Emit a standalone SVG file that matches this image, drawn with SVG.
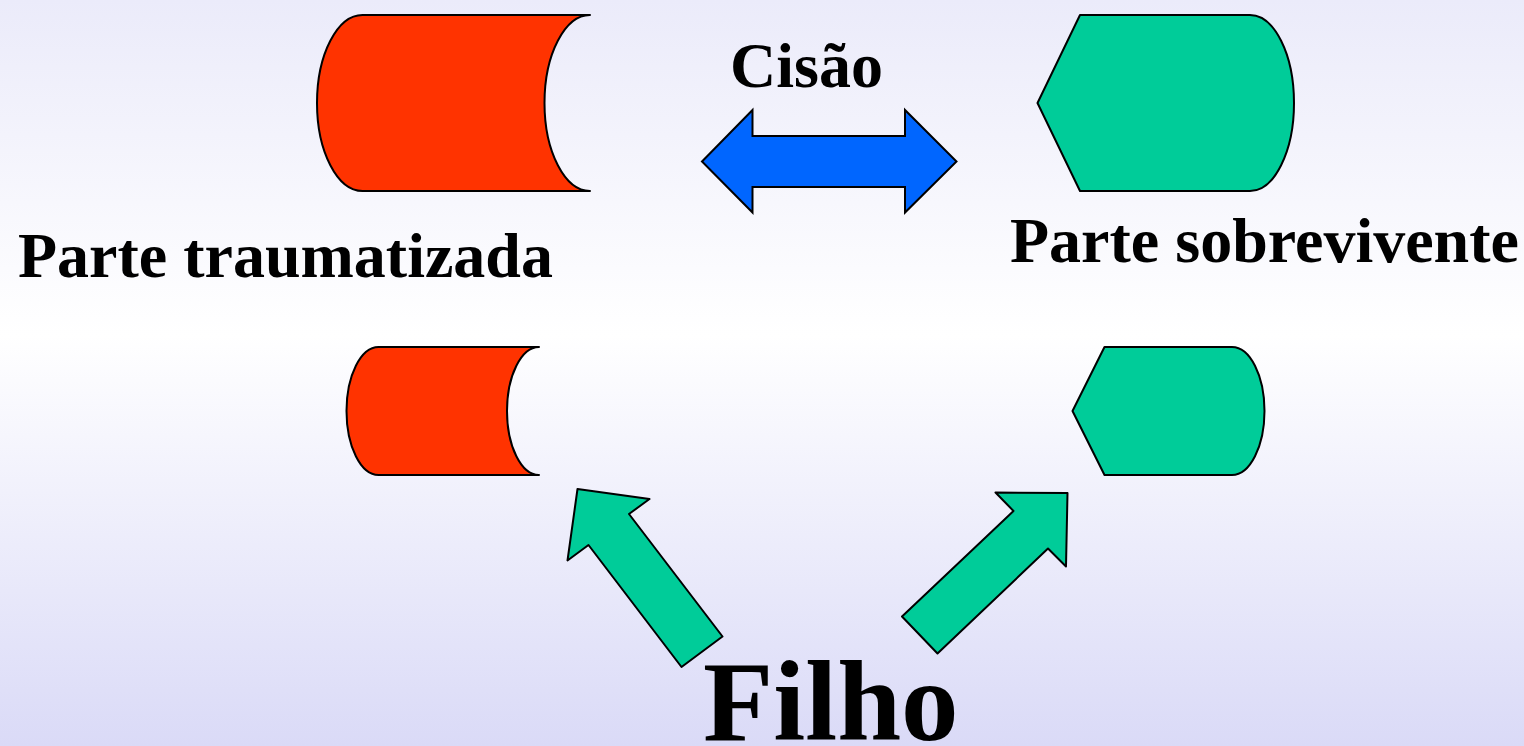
<svg xmlns="http://www.w3.org/2000/svg" width="1524" height="746" viewBox="0 0 1524 746">
<defs>
<linearGradient id="bg" x1="0" y1="0" x2="0" y2="1">
<stop offset="0" stop-color="#EBEBFA"/>
<stop offset="0.45" stop-color="#FFFFFF"/>
<stop offset="1" stop-color="#DADAF7"/>
</linearGradient>
</defs>
<style>
.red{fill:#FF3300;stroke:#000;stroke-width:2;stroke-linejoin:round}
.green{fill:#00CC99;stroke:#000;stroke-width:2;stroke-linejoin:round}
.blue{fill:#0066FF;stroke:#000;stroke-width:2;stroke-linejoin:miter}
.lbl{font-family:"Liberation Serif","Times New Roman",serif;font-weight:bold;fill:#000}
</style>
<rect x="0" y="0" width="1524" height="746" fill="url(#bg)"/>
<g id="parte-traumatizada-grande">
<path class="red" d="M362.5,15 L590,15 A45.5,88 0 0 0 590,191 L362.5,191 A45.5,88 0 0 1 362.5,15 Z"/>
</g>
<g id="parte-sobrevivente-grande">
<path class="green" d="M1080,15 L1250,15 A44,88 0 0 1 1250,191 L1080,191 L1037.5,103 Z"/>
</g>
<g id="parte-traumatizada-pequena">
<path class="red" d="M378.5,347 L539,347 A32,64 0 0 0 539,475 L378.5,475 A32,64 0 0 1 378.5,347 Z"/>
</g>
<g id="parte-sobrevivente-pequena">
<path class="green" d="M1104.5,347 L1232,347 A32.5,64 0 0 1 1232,475 L1104.5,475 L1072.5,411 Z"/>
</g>
<g id="connectors">
<path class="blue" d="M702,161.5 L752.5,110 L752.5,136 L905,136 L905,110 L956.5,161.5 L905,212.5 L905,187 L752.5,187 L752.5,212.5 Z"/>
<path class="green" d="M577.5,489 L649.5,499 L629,514 L722.5,636.5 L681.5,667 L588.5,545 L567.5,560.5 Z"/>
<path class="green" d="M1067.5,493 L1066,566.5 L1048,548.5 L937.5,653.5 L902,616.5 L1013.5,511 L995.5,492.5 Z"/>
</g>
<g id="labels">
<text class="lbl" x="730" y="87" font-size="64">Cisão</text>
<text class="lbl" x="18" y="277" font-size="64">Parte traumatizada</text>
<text class="lbl" x="1010" y="262" font-size="64">Parte sobrevivente</text>
<text class="lbl" x="703" y="740" font-size="115">Filho</text>
</g>
</svg>
